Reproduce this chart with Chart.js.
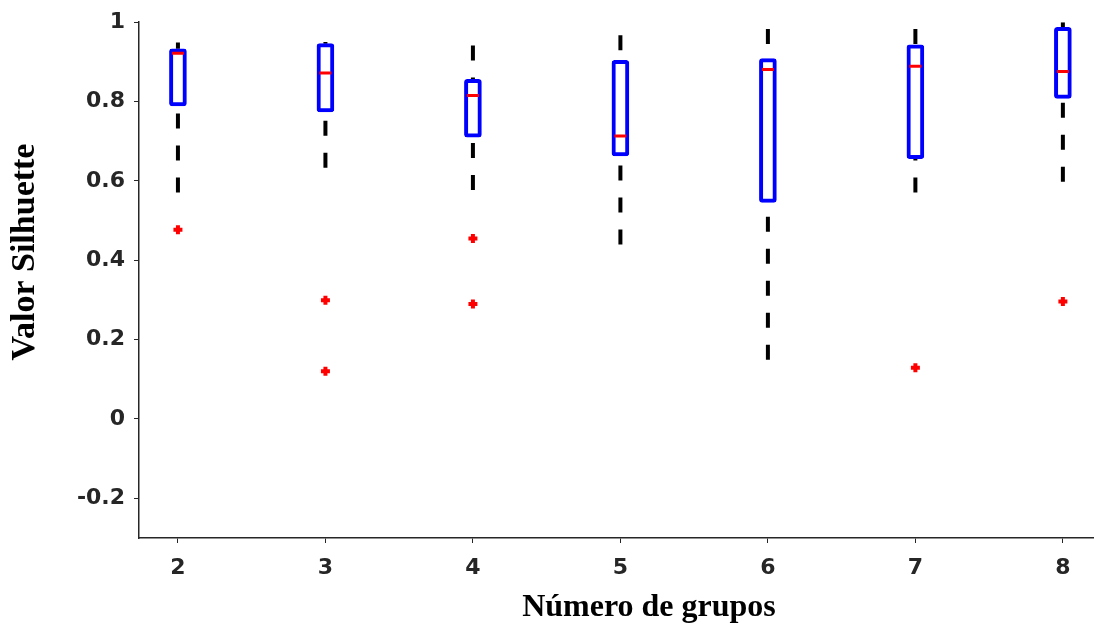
<!DOCTYPE html>
<html>
<head>
<meta charset="utf-8">
<script src="https://cdn.jsdelivr.net/npm/chart.js@4"></script>
<style>
  html, body { margin: 0; padding: 0; background: #fff; }
  #myChart { display: block; }
</style>
</head>
<body>
<canvas id="myChart" width="1094" height="629"></canvas>
<script>
// Datos (Valor Silhuette por número de grupos)
var grupos = [2, 3, 4, 5, 6, 7, 8];
var bigoteInf = [0.571, 0.633, 0.577, 0.44, 0.149, 0.571, 0.598];
var cuartil1 = [0.789, 0.774, 0.71, 0.663, 0.546, 0.656, 0.808];
var mediana = [0.922, 0.872, 0.815, 0.713, 0.881, 0.889, 0.876];
var cuartil3 = [0.933, 0.946, 0.856, 0.904, 0.908, 0.943, 0.987];
var bigoteSup = [0.949, 0.95, 0.941, 0.967, 0.983, 0.983, 1.0];
var atipicos = [[0.477], [0.299, 0.12], [0.455, 0.29], [], [], [0.129], [0.296]];
var ticksY = [-0.2, 0, 0.2, 0.4, 0.6, 0.8, 1];

document.addEventListener('DOMContentLoaded', function() {
    // Cajas como barras flotantes [q1, q3]
    var cajas = grupos.map((g, i) => ({ x: g, y: [cuartil1[i], cuartil3[i]] }));

    // Bigotes: desde el extremo hacia la caja, separados por null
    var bigotes = [];
    grupos.forEach((g, i) => {
        bigotes.push({ x: g, y: bigoteSup[i] }, { x: g, y: cuartil3[i] }, { x: g, y: null });
        bigotes.push({ x: g, y: bigoteInf[i] }, { x: g, y: cuartil1[i] }, { x: g, y: null });
    });

    var medianas = grupos.map((g, i) => ({ x: g, y: mediana[i] }));

    var puntosAtipicos = [];
    grupos.forEach((g, i) => {
        atipicos[i].forEach(v => puntosAtipicos.push({ x: g, y: v }));
    });

    // Títulos de ejes dibujados a mano (no van centrados en el área)
    var titulos = {
        id: 'titulos',
        afterDraw: function(chart) {
            var ctx = chart.ctx;
            ctx.save();
            ctx.fillStyle = '#000';
            ctx.font = 'bold 32px "Liberation Serif", "Times New Roman", serif';
            ctx.textAlign = 'center';
            ctx.textBaseline = 'alphabetic';
            ctx.fillText('Número de grupos', 649, 616);
            ctx.translate(34, 252);
            ctx.rotate(-Math.PI / 2);
            ctx.font = 'bold 34px "Liberation Serif", "Times New Roman", serif';
            ctx.fillText('Valor Silhuette', 0, 0);
            ctx.restore();
        }
    };

    var tickFont = { family: '"DejaVu Sans", sans-serif', size: 22, weight: 'bold' };

    var ctx = document.getElementById('myChart').getContext('2d');
    var myChart = new Chart(ctx, {
        type: 'bar',
        data: {
            datasets: [{
                type: 'line',
                label: 'bigotes',
                data: bigotes,
                borderColor: '#000',
                borderWidth: 4,
                borderDash: [15, 17],
                pointRadius: 0,
                spanGaps: false,
                borderCapStyle: 'butt',
                order: 3
            }, {
                type: 'bar',
                label: 'cajas',
                data: cajas,
                backgroundColor: '#fff',
                borderColor: '#0000ff',
                borderWidth: 4,
                borderSkipped: false,
                borderRadius: 3,
                barThickness: 17,
                order: 2
            }, {
                type: 'scatter',
                label: 'mediana',
                data: medianas,
                pointStyle: 'line',
                pointRadius: 6,
                pointBorderWidth: 3,
                borderColor: '#ff0000',
                order: 1
            }, {
                type: 'scatter',
                label: 'atipicos',
                data: puntosAtipicos,
                pointStyle: 'cross',
                pointRadius: 4.5,
                pointBorderWidth: 4,
                borderColor: '#ff0000',
                order: 0
            }]
        },
        options: {
            responsive: false,
            animation: false,
            devicePixelRatio: 1,
            layout: { autoPadding: false, padding: { top: 19, right: 0, left: 0, bottom: 0 } },
            plugins: {
                legend: { display: false },
                tooltip: { enabled: false }
            },
            scales: {
                x: {
                    type: 'linear',
                    offset: false,
                    min: 1.736,
                    max: 8.211,
                    afterBuildTicks: function(scale) {
                        scale.ticks = grupos.map(v => ({ value: v }));
                    },
                    afterFit: function(scale) {
                        scale.height = 91;
                        scale.paddingLeft = 0;
                        scale.paddingRight = 0;
                    },
                    grid: { offset: false, drawOnChartArea: false, drawTicks: true, tickLength: 5, color: '#262626' },
                    border: { color: '#262626', width: 1.5 },
                    ticks: { color: '#262626', font: tickFont, padding: 12, callback: v => String(v) }
                },
                y: {
                    min: -0.3,
                    max: 1,
                    afterBuildTicks: function(scale) {
                        scale.ticks = ticksY.map(v => ({ value: v }));
                    },
                    afterFit: function(scale) { scale.width = 139; },
                    grid: { drawOnChartArea: false, drawTicks: true, tickLength: 5, color: '#262626' },
                    border: { color: '#262626', width: 1.5 },
                    ticks: {
                        color: '#262626',
                        font: tickFont,
                        padding: 9,
                        callback: v => String(Math.round(v * 10) / 10)
                    }
                }
            }
        },
        plugins: [titulos]
    });
});
</script>
</body>
</html>
